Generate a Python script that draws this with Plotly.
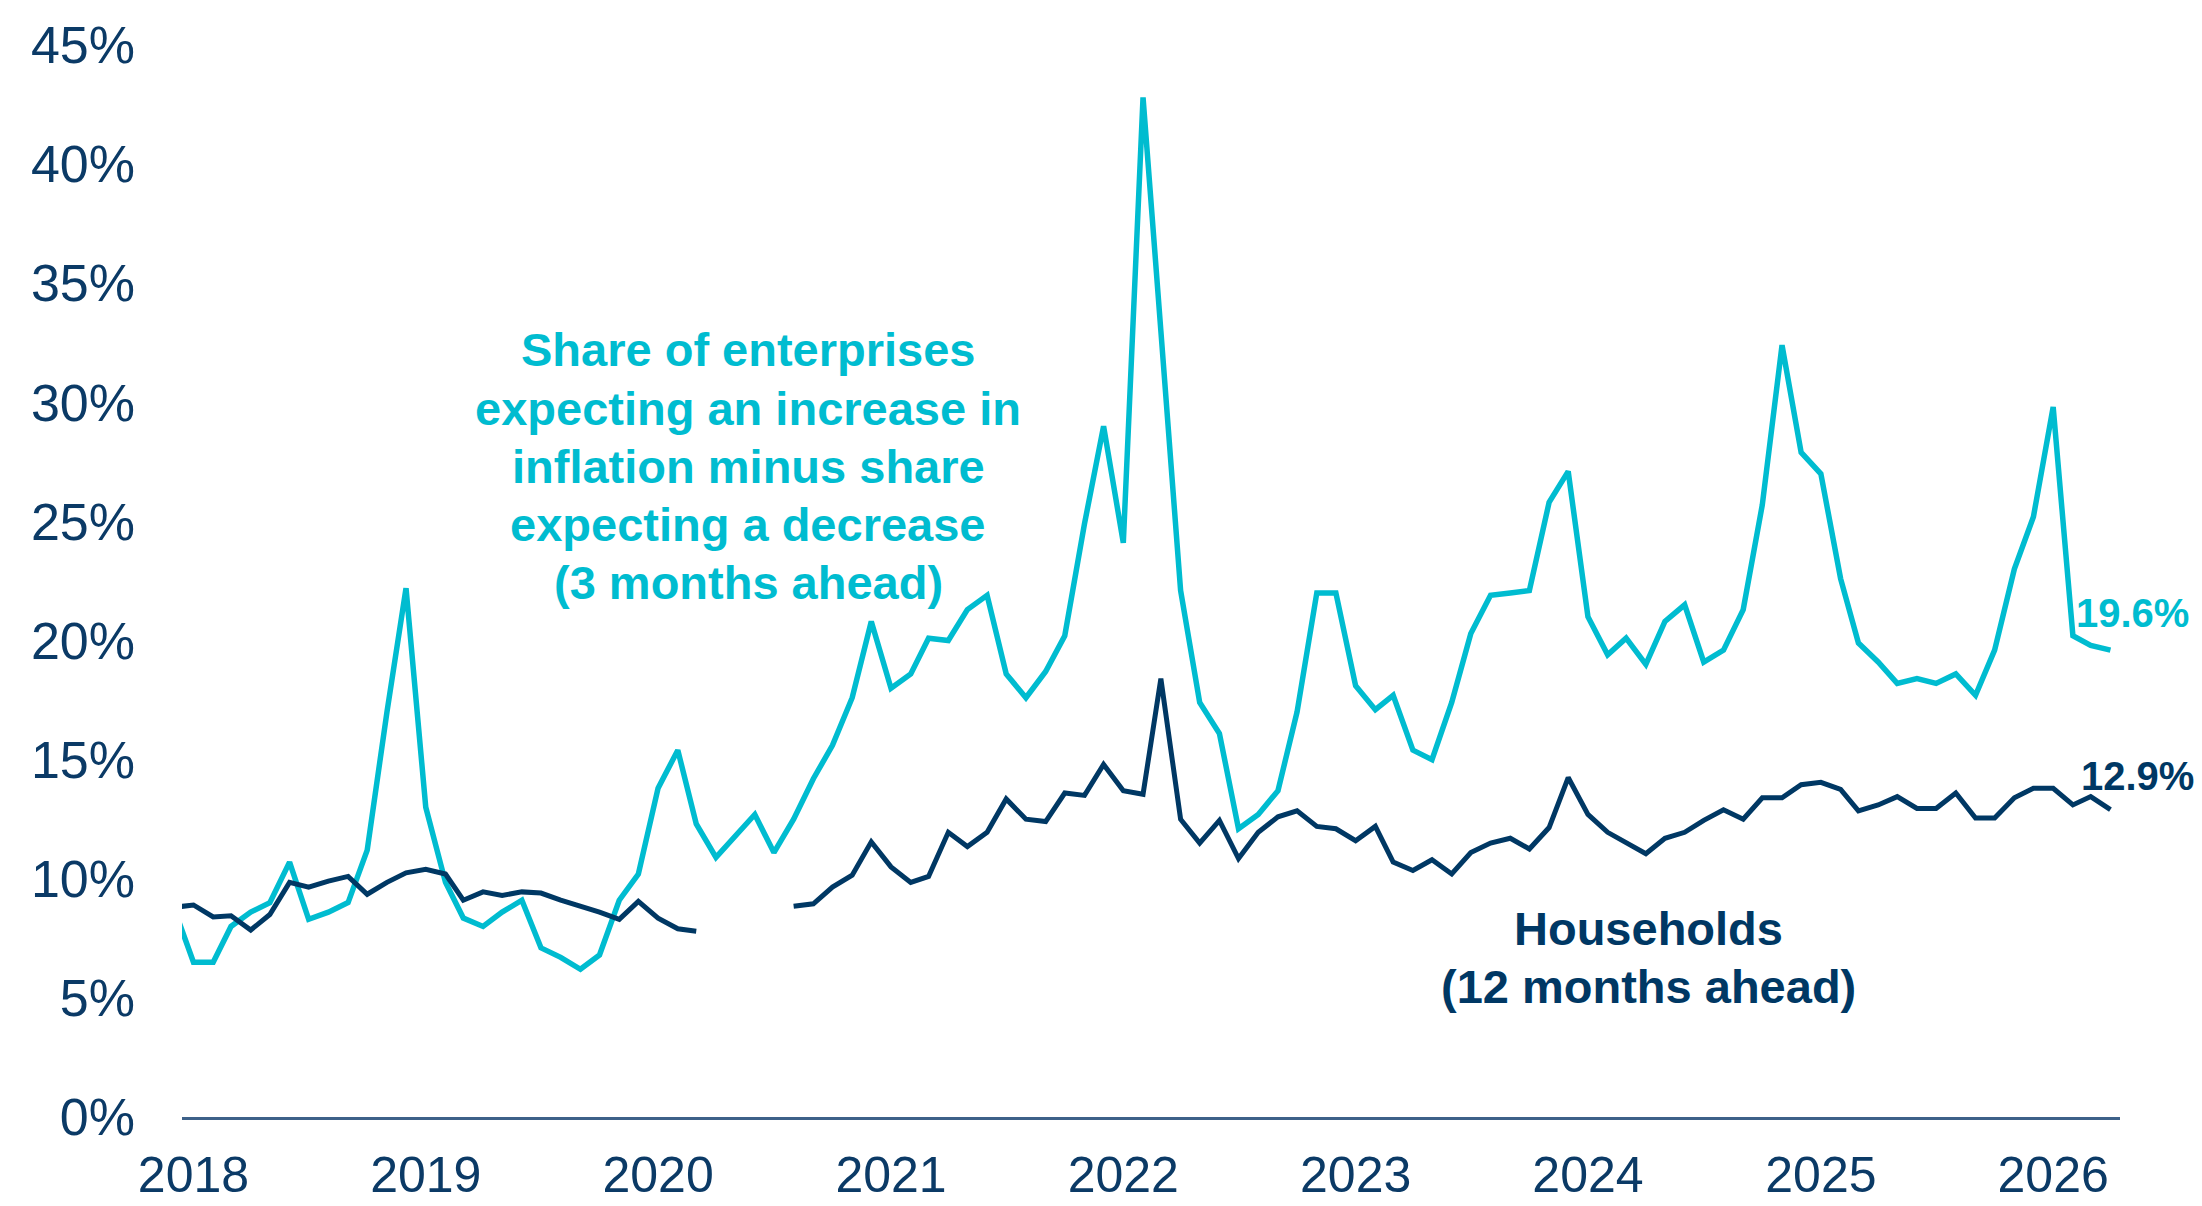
import pandas as pd
import plotly.graph_objects as go

# Monthly observations, Dec 2017 .. Apr 2026 (first point partly clipped by the axis range)
months = pd.date_range("2017-12-01", periods=101, freq="MS")

enterprises = [
    8.8,
    6.5, 6.5, 8.0, 8.6, 9.0, 10.7, 8.3, 8.6, 9.0, 11.2, 17.0, 22.2,          # 2018
    13.0, 9.85, 8.35, 8.0, 8.6, 9.1, 7.1, 6.7, 6.2, 6.8, 9.1, 10.2,          # 2019
    13.8, 15.4, 12.3, 10.9, 11.8, 12.7, 11.1, 12.5, 14.2, 15.6, 17.6, 20.8,  # 2020
    18.0, 18.6, 20.1, 20.0, 21.3, 21.9, 18.6, 17.6, 18.7, 20.2, 24.9, 29.0,  # 2021
    24.1, 42.8, 33.0, 22.1, 17.4, 16.1, 12.1, 12.7, 13.7, 17.0, 22.0, 22.0,  # 2022
    18.1, 17.1, 17.7, 15.4, 15.0, 17.4, 20.3, 21.9, 22.0, 22.1, 25.8, 27.1,  # 2023
    21.0, 19.4, 20.1, 19.0, 20.8, 21.5, 19.1, 19.6, 21.3, 25.7, 32.4, 27.9,  # 2024
    27.0, 22.6, 19.9, 19.1, 18.2, 18.4, 18.2, 18.6, 17.7, 19.6, 23.0, 25.2,  # 2025
    29.8, 20.2, 19.8, 19.6,                                                  # 2026
]

households = [
    8.8,
    8.9, 8.4, 8.45, 7.85, 8.5, 9.85, 9.65, 9.9, 10.1, 9.35, 9.85, 10.25,     # 2018
    10.4, 10.2, 9.1, 9.45, 9.3, 9.45, 9.4, 9.1, 8.85, 8.6, 8.3, 9.05,       # 2019
    8.35, 7.9, 7.8, None, None, None, None, 8.85, 8.95, 9.65, 10.15, 11.55, # 2020
    10.5, 9.85, 10.1, 11.95, 11.35, 11.95, 13.35, 12.5, 12.4, 13.6, 13.5, 14.8,  # 2021
    13.7, 13.55, 18.4, 12.5, 11.5, 12.45, 10.85, 11.95, 12.6, 12.85, 12.2, 12.1, # 2022
    11.6, 12.2, 10.7, 10.35, 10.8, 10.2, 11.1, 11.5, 11.7, 11.25, 12.15, 14.25,  # 2023
    12.7, 11.95, 11.5, 11.05, 11.7, 11.95, 12.45, 12.9, 12.5, 13.4, 13.4, 13.95, # 2024
    14.05, 13.75, 12.85, 13.1, 13.45, 12.95, 12.95, 13.6, 12.55, 12.55, 13.4, 13.8, # 2025
    13.8, 13.1, 13.45, 12.9,                                                  # 2026
]

year_ticks = [f"{y}-01-01" for y in range(2018, 2027)]
year_labels = [str(y) for y in range(2018, 2027)]
y_ticks = list(range(0, 50, 5))
y_labels = [f"{v}%" for v in y_ticks]

enterprise_label = [
    "Share of enterprises",
    "expecting an increase in",
    "inflation minus share",
    "expecting a decrease",
    "(3 months ahead)",
]
household_label = ["Households", "(12 months ahead)"]

CYAN = "#00BCD0"
NAVY = "#003864"
TEXT = "#0B3A66"
FONT = "Liberation Sans, Arial, sans-serif"

fig = go.Figure()
fig.add_trace(go.Scatter(x=months, y=enterprises, mode="lines",
                         line=dict(color=CYAN, width=5.5), connectgaps=False,
                         name="Enterprises"))
fig.add_trace(go.Scatter(x=months, y=households, mode="lines",
                         line=dict(color=NAVY, width=5), connectgaps=False,
                         name="Households"))

annotations = []
ent_y = [32.23, 29.76, 27.32, 24.88, 22.45]
for txt, yy in zip(enterprise_label, ent_y):
    annotations.append(dict(xref="paper", yref="y", x=0.2921, y=yy, text=f"<b>{txt}</b>",
                            showarrow=False, xanchor="center", yanchor="middle",
                            font=dict(family=FONT, size=47, color=CYAN)))
hh_y = [7.90, 5.46]
for txt, yy in zip(household_label, hh_y):
    annotations.append(dict(xref="paper", yref="y", x=0.7565, y=yy, text=f"<b>{txt}</b>",
                            showarrow=False, xanchor="center", yanchor="middle",
                            font=dict(family=FONT, size=47, color=NAVY)))

# End-of-series value labels
annotations.append(dict(x=months[-1], y=enterprises[-1], text=f"<b>{enterprises[-1]:.1f}%</b>",
                        showarrow=False, xanchor="left", yanchor="middle", xshift=-36, yshift=37,
                        font=dict(family=FONT, size=40, color=CYAN)))
annotations.append(dict(x=months[-1], y=households[-1], text=f"<b>{households[-1]:.1f}%</b>",
                        showarrow=False, xanchor="left", yanchor="middle", xshift=-31, yshift=34,
                        font=dict(family=FONT, size=40, color=NAVY)))

fig.update_layout(
    width=2202, height=1206,
    margin=dict(l=182, r=82, t=45, b=89),
    paper_bgcolor="white", plot_bgcolor="white",
    showlegend=False,
    font=dict(family=FONT, color=TEXT),
    annotations=annotations,
    xaxis=dict(
        type="date",
        range=["2017-12-14", "2026-04-16"],
        tickvals=year_ticks, ticktext=year_labels,
        showgrid=False, zeroline=False,
        showline=True, linecolor="#3D6189", linewidth=2.5,
        ticks="", tickfont=dict(family=FONT, size=50, color=TEXT),
        ticklabelstandoff=12, automargin=False,
    ),
    yaxis=dict(
        range=[0, 45],
        tickvals=y_ticks, ticktext=y_labels,
        showgrid=False, zeroline=False, showline=False,
        ticks="", tickfont=dict(family=FONT, size=52, color=TEXT),
        ticklabelstandoff=46, automargin=False,
    ),
)

# Remove the default page margin so the figure fills the window exactly
fig.write_html(
    "out.html",
    config={"displayModeBar": False},
    post_script="document.body.style.margin='0';document.body.style.overflow='hidden';",
)
